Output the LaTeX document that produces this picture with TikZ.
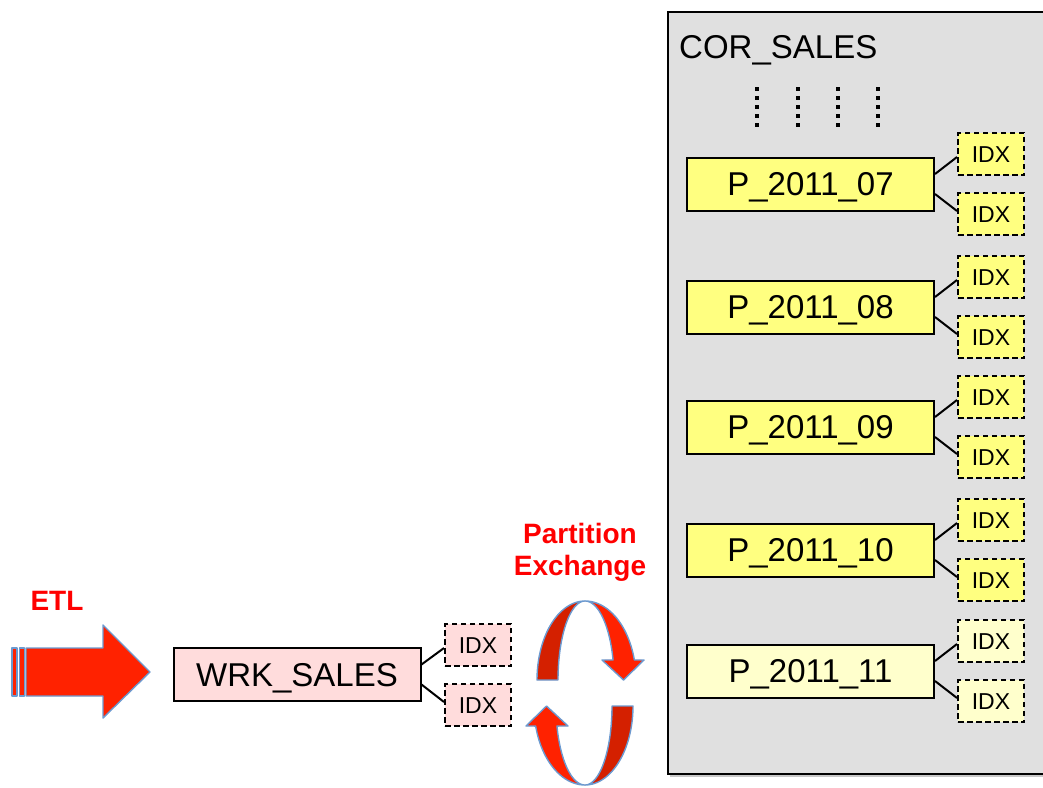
\documentclass[tikz,border=0pt]{standalone}
\usepackage{fontspec}
\setmainfont{Liberation Sans}
\definecolor{boxgray}{HTML}{E0E0E0}
\definecolor{pyellow}{HTML}{FFFF80}
\definecolor{pyellowlt}{HTML}{FFFFCC}
\definecolor{ppink}{HTML}{FFDCDC}
\definecolor{arrred}{HTML}{FF2200}
\definecolor{arrdark}{HTML}{D42000}
\definecolor{arrblue}{HTML}{6C9AD0}
\definecolor{txtred}{HTML}{FF0000}
\tikzset{
  partbox/.style={draw=black, line width=2pt, fill=pyellow, minimum width=247pt, minimum height=53pt, inner sep=0pt, text height=23.5pt, text depth=0pt, font=\fontsize{33}{33}\selectfont},
  idxbox/.style={draw=black, line width=2pt, dash pattern=on 5.5pt off 3.5pt, fill=pyellow, minimum width=66pt, minimum height=42pt, inner sep=0pt, text height=16.5pt, text depth=0pt, font=\fontsize{23}{23}\selectfont},
  link/.style={draw=black, line width=2pt},
  redlabel/.style={text=txtred, font=\bfseries\fontsize{28}{32}\selectfont, align=center},
  ribbon/.style={draw=arrblue, line width=1.4pt, line join=round},
}
\begin{document}
\begin{tikzpicture}[x=1pt, y=-1pt]
\useasboundingbox (0,0) rectangle (1043,787);
% outer container with soft shadow
\fill[black!22] (670,14) rectangle (1060,777);
\node[draw=black, line width=2pt, fill=boxgray, minimum width=393pt, minimum height=762pt, inner sep=0pt, anchor=north west] (cor) at (667,11) {};
\node[anchor=west, font=\fontsize{33}{33}\selectfont, inner sep=0pt, text height=23.5pt, text depth=0pt] (cortitle) at (679,47) {COR\_SALES};
% dotted lines
\foreach \xx in {757,798,838,878}
  \draw[line width=4pt, dash pattern=on 4pt off 5pt] (\xx,87) -- (\xx,130);
% partitions
\foreach \nm/\yy/\fc in {07/184/pyellow, 08/307/pyellow, 09/427/pyellow, 10/550/pyellow, 11/671/pyellowlt}{
  \node[partbox, fill=\fc] (p\nm) at (810.5,\yy) {P\_2011\_\nm};
  \node[idxbox, fill=\fc] (i\nm a) at (991,\yy-30) {IDX};
  \node[idxbox, fill=\fc] (i\nm b) at (991,\yy+30) {IDX};
  \draw[link] ([yshift=10pt]p\nm.east) -- ([yshift=-3pt]i\nm a.west);
  \draw[link] ([yshift=-10pt]p\nm.east) -- ([yshift=3pt]i\nm b.west);
}
% work table
\node[partbox, fill=ppink] (wrk) at (297,674.5) {WRK\_SALES};
\node[idxbox, fill=ppink] (wa) at (478,645) {IDX};
\node[idxbox, fill=ppink] (wb) at (478,705) {IDX};
\draw[link] ([yshift=10pt]wrk.east) -- ([yshift=-3pt]wa.west);
\draw[link] ([yshift=-10pt]wrk.east) -- ([yshift=3pt]wb.west);
% ETL block arrow
\node[redlabel] (etl) at (57,601) {ETL};
\filldraw[ribbon, fill=arrred] (12,648) rectangle (17,696);
\filldraw[ribbon, fill=arrred] (19.5,648) rectangle (24.5,696);
\filldraw[ribbon, fill=arrred] (26,648) -- (103,648) -- (103,625) -- (150,672) -- (103,718) -- (103,696) -- (26,696) -- cycle;
% Partition Exchange label
\node[redlabel] (pex) at (580,552) {Partition\\Exchange};
% circular ribbons
\foreach \rot in {0,180}{
 \begin{scope}[rotate around={\rot:(585,693)}]
  \filldraw[ribbon, fill=arrdark]
    plot[domain=180:90, samples=40] ({585+48*cos(\x)}, {680-79*sin(\x)})
    -- plot[domain=90:180, samples=40] ({585+27*cos(\x)}, {680-79*sin(\x)}) -- cycle;
  \filldraw[ribbon, fill=arrred]
    plot[domain=90:14.7, samples=40] ({585+51*cos(\x)}, {680-79*sin(\x)})
    -- (644,660) -- (623.5,680) -- (602,660)
    -- plot[domain=14.7:90, samples=40] ({585+29*cos(\x)}, {680-79*sin(\x)}) -- cycle;
 \end{scope}
}
\end{tikzpicture}
\end{document}
